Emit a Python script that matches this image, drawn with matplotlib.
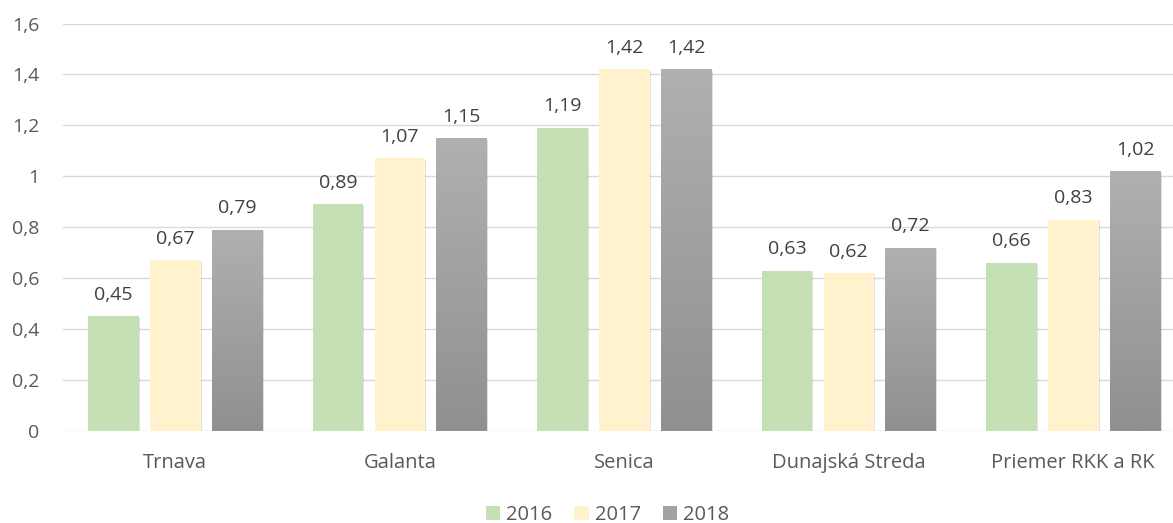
import numpy as np
import matplotlib.pyplot as plt
import matplotlib.patheffects as pe
from matplotlib.colors import LinearSegmentedColormap
from matplotlib.patches import Patch

plt.rcParams['font.family'] = ['Open Sans', 'DejaVu Sans']

# data
regions = ['Trnava', 'Galanta', 'Senica', 'Dunajská Streda', 'Priemer RKK a RK']
years = ['2016', '2017', '2018']
v2016 = [0.45, 0.89, 1.19, 0.63, 0.66]
v2017 = [0.67, 1.07, 1.42, 0.62, 0.83]
v2018 = [0.79, 1.15, 1.42, 0.72, 1.02]
yticks = [0, 0.2, 0.4, 0.6, 0.8, 1, 1.2, 1.4, 1.6]

colors = ['#C5E0B4', '#FFF2CC', '#A3A3A3']
txt = '#595959'

fig = plt.figure(figsize=(11.73, 5.23), dpi=100)
ax = fig.add_axes([0.0537, 0.176, 0.957, 0.779])

x = np.arange(len(regions))
w = 0.225
step = 0.276
shadow = [pe.SimplePatchShadow(offset=(1, -1), alpha=0.15), pe.Normal()]

gray_cmap = LinearSegmentedColormap.from_list('g', ['#909090', '#B0B0B0'])
grad = np.linspace(0, 1, 256).reshape(-1, 1)

for i, vals in enumerate([v2016, v2017, v2018]):
    pos = x + (i - 1) * step
    bars = ax.bar(pos, vals, width=w, color=colors[i], zorder=3,
                  path_effects=shadow)
    if i == 2:
        # gradient fill for the grey bars
        for b in bars:
            x0 = b.get_x()
            h = b.get_height()
            im = ax.imshow(grad, cmap=gray_cmap, origin='lower', aspect='auto',
                           extent=(x0, x0 + b.get_width(), 0, h), zorder=4)
            im.set_clip_path(b)
    for p, v in zip(pos, vals):
        ax.annotate(f'{v:.2f}'.replace('.', ','), (p, v), xytext=(0, 9),
                    textcoords='offset points', ha='center', va='bottom',
                    fontsize=14, color='#404040')

ax.set_xlim(-0.5, len(regions) - 0.5)
ax.set_ylim(0, 1.6)
ax.set_yticks(yticks)
ax.set_yticklabels([f'{t:g}'.replace('.', ',') for t in yticks])
ax.set_xticks(x)
ax.set_xticklabels(regions, fontsize=14.5)
ax.tick_params(axis='both', length=0, colors=txt)
ax.tick_params(axis='y', labelsize=14, pad=17)
ax.tick_params(axis='x', pad=16)
ax.grid(axis='y', color='#D9D9D9', linewidth=1, zorder=0)
ax.set_axisbelow(True)
for s in ax.spines.values():
    s.set_visible(False)

handles = [Patch(facecolor=c) for c in colors]
fig.legend(handles, years, loc='lower center', bbox_to_anchor=(0.518, -0.038),
           ncol=3, frameon=False, fontsize=14.5, handlelength=0.7,
           handleheight=0.7, handletextpad=0.3, columnspacing=1.1,
           labelcolor=txt)

fig.savefig('out.png', dpi=100)
